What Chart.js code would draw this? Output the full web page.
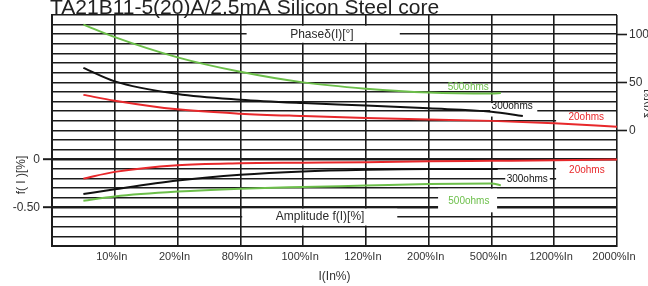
<!DOCTYPE html>
<html><head><meta charset="utf-8">
<script src="https://cdn.jsdelivr.net/npm/chart.js@4/dist/chart.umd.min.js"></script>
<style>html,body{margin:0;padding:0;background:#fff;overflow:hidden}#wrap{position:relative;width:648px;height:286px}</style>
</head><body><div id="wrap"><canvas id="c" width="648" height="286"></canvas></div>
<script>
const chartTitle = 'TA21B11-5(20)A/2.5mA Silicon Steel core';
const xTickLabels = ['', '10%In', '20%In', '80%In', '100%In', '120%In', '200%In', '500%In', '1200%In', '2000%In'];
const xAxisTitle = 'I(In%)';
const ampAxisTitle = 'f( I )[%]';
const phaseAxisTitle = 'δ(I)[°]';
const ampTickLabels = {'0': '0', '-0.5': '-0.50'};
const phaseTickValues = [0, 50, 100];

// phase (right axis, degrees)
const phaseX_500 = [0.5, 1, 2, 3, 4, 5, 6, 7, 7.15];
const phase_500  = [110, 97, 76, 61, 50, 43.5, 39.5, 38.5, 39];
const phaseX_300 = [0.5, 1, 2, 3, 4, 5, 6, 7, 7.5];
const phase_300  = [65, 51, 38, 32, 28.5, 26, 23, 19.5, 15];
const phaseX_20  = [0.5, 1, 2, 3, 4, 5, 6, 7, 8, 9];
const phase_20   = [37, 31, 22, 17.5, 15, 13, 11.5, 10, 7.5, 4];
// amplitude (left axis, %)
const ampX_20  = [0.5, 1, 2, 3, 4, 5, 6, 7, 8, 9];
const amp_20   = [-0.20, -0.13, -0.06, -0.04, -0.035, -0.03, -0.02, -0.015, -0.01, 0];
const ampX_300 = [0.5, 1, 2, 3, 4, 5, 6, 7, 7.1];
const amp_300  = [-0.36, -0.31, -0.22, -0.16, -0.125, -0.108, -0.10, -0.10, -0.10];
const ampX_500 = [0.5, 1, 2, 3, 4, 5, 6, 7, 7.15];
const amp_500  = [-0.43, -0.385, -0.335, -0.305, -0.287, -0.272, -0.256, -0.25, -0.27];

const FONT = '"Liberation Sans", Arial, Helvetica, sans-serif';
const GRID = '#1c1c1c';
const GREEN = '#6cbf4a', RED = '#e8282b', BLACK = '#111111';

const notes = [
  {text: 'Phaseδ(I)[°]', axis: 'y2', x: 4.3, y: 100, size: 12, color: '#2a2a2a', box: [3.1, 5.54, 108.8, 91.2]},
  {text: 'Amplitude f(I)[%]', axis: 'y', x: 4.27, y: -0.6, size: 12, color: '#2a2a2a', box: [3.03, 5.5, -0.512, -0.688]},
  {text: '500ohms', axis: 'y2', x: 6.63, y: 45, size: 10, color: GREEN},
  {text: '300ohms', axis: 'y2', x: 7.33, y: 25, size: 10, color: '#111', box: [6.98, 7.73, 28.5, 14.5]},
  {text: '20ohms', axis: 'y2', x: 8.51, y: 14, size: 10, color: RED, box: [8.03, 8.985, 18.5, 4.5]},
  {text: '20ohms', axis: 'y', x: 8.52, y: -0.115, size: 10, color: RED, box: [8.03, 8.985, -0.035, -0.28]},
  {text: '300ohms', axis: 'y', x: 7.57, y: -0.21, size: 10, color: '#111', box: [7.22, 7.93, -0.15, -0.27]},
  {text: '500ohms', axis: 'y', x: 6.64, y: -0.43, size: 10, color: GREEN, box: [6.15, 7.09, -0.305, -0.55]}
];

const notesPlugin = {
  id: 'notes',
  beforeDatasetsDraw(chart) {
    const {ctx, scales} = chart;
    const xs = scales.x;
    ctx.save();
    for (const n of notes) {
      const ys = scales[n.axis];
      if (n.box) {
        const x0 = xs.getPixelForValue(n.box[0]), x1 = xs.getPixelForValue(n.box[1]);
        const y0 = ys.getPixelForValue(n.box[2]), y1 = ys.getPixelForValue(n.box[3]);
        ctx.fillStyle = '#fff';
        ctx.fillRect(x0, y0, x1 - x0, y1 - y0);
      }
      ctx.font = n.size + 'px ' + FONT;
      ctx.fillStyle = n.color;
      ctx.textAlign = 'center';
      ctx.textBaseline = 'middle';
      ctx.fillText(n.text, xs.getPixelForValue(n.x), ys.getPixelForValue(n.y));
    }
    ctx.restore();
  },
  afterDraw(chart) {
    const {ctx} = chart;
    ctx.save();
    ctx.fillStyle = '#222';
    ctx.font = '21px ' + FONT;
    ctx.textAlign = 'left';
    ctx.textBaseline = 'alphabetic';
    ctx.fillText(chartTitle, 50, 13.5);
    ctx.font = '12px ' + FONT;
    ctx.fillStyle = '#333';
    ctx.textAlign = 'center';
    ctx.textBaseline = 'middle';
    ctx.translate(22, 175);
    ctx.rotate(-Math.PI / 2);
    ctx.fillText(ampAxisTitle, 0, 0);
    ctx.restore();
    ctx.save();
    ctx.font = '12px ' + FONT;
    ctx.fillStyle = '#333';
    ctx.textAlign = 'center';
    ctx.textBaseline = 'middle';
    ctx.translate(650, 104);
    ctx.rotate(-Math.PI / 2);
    ctx.fillText(phaseAxisTitle, 0, 0);
    ctx.restore();
  }
};

function pts(xa, ya) { return xa.map((v, i) => ({x: v, y: ya[i]})); }
function ds(label, xa, ya, color, axis) {
  return {label, data: pts(xa, ya), borderColor: color, backgroundColor: color, borderWidth: 2,
    pointRadius: 0, cubicInterpolationMode: 'monotone', yAxisID: axis, fill: false};
}
function zeroPad(s) { s.paddingTop = 0; s.paddingBottom = 0; s.paddingLeft = 0; s.paddingRight = 0; }

new Chart(document.getElementById('c'), {
  type: 'line',
  data: {
    datasets: [
      ds('Phase 500ohms', phaseX_500, phase_500, GREEN, 'y2'),
      ds('Phase 300ohms', phaseX_300, phase_300, BLACK, 'y2'),
      ds('Phase 20ohms', phaseX_20, phase_20, RED, 'y2'),
      ds('Amplitude 20ohms', ampX_20, amp_20, RED, 'y'),
      ds('Amplitude 300ohms', ampX_300, amp_300, BLACK, 'y'),
      ds('Amplitude 500ohms', ampX_500, amp_500, GREEN, 'y')
    ]
  },
  options: {
    responsive: false,
    animation: false,
    devicePixelRatio: 1,
    layout: {padding: {top: 15, left: 0, right: 0, bottom: 0}},
    plugins: {legend: {display: false}, tooltip: {enabled: false}, title: {display: false}},
    scales: {
      x: {
        type: 'linear', min: 0, max: 9, position: 'bottom',
        afterBuildTicks(s) { s.ticks = xTickLabels.map((_, i) => ({value: i})); },
        afterFit(s) { s.height = 40; zeroPad(s); },
        grid: {color: GRID, lineWidth: 1.6, drawTicks: false},
        border: {color: GRID, width: 2},
        ticks: {autoSkip: false, maxRotation: 0, padding: 4, labelOffset: -3, color: '#333',
          font: {family: FONT, size: 11}, callback: (v) => xTickLabels[v] || ''},
        title: {display: true, text: xAxisTitle, color: '#333', font: {family: FONT, size: 12}, padding: {top: 0, bottom: 2}}
      },
      y: {
        type: 'linear', position: 'left', min: -0.9, max: 1.5,
        afterBuildTicks(s) { s.ticks = Array.from({length: 25}, (_, i) => ({value: Math.round(-9 + i) / 10})); },
        afterFit(s) { s.width = 52; zeroPad(s); },
        grid: {
          color: GRID,
          lineWidth: (c) => (c.tick && (c.tick.value === 0 || c.tick.value === -0.5)) ? 2.4 : 1.6,
          drawTicks: true, tickLength: 9, tickWidth: 2,
          tickColor: (c) => (c.tick && ampTickLabels[String(c.tick.value)] !== undefined) ? GRID : 'rgba(0,0,0,0)'
        },
        border: {color: GRID, width: 2},
        ticks: {autoSkip: false, padding: 3, color: '#333', font: {family: FONT, size: 12},
          callback: (v) => ampTickLabels[String(v)] !== undefined ? ampTickLabels[String(v)] : ''}
      },
      y2: {
        type: 'linear', position: 'right', min: -120, max: 120,
        afterBuildTicks(s) { s.ticks = phaseTickValues.map((v) => ({value: v})); },
        afterFit(s) { s.width = 31; zeroPad(s); },
        grid: {drawOnChartArea: false, drawTicks: true, tickLength: 10, tickWidth: 1.6, tickColor: GRID, color: GRID},
        border: {display: false},
        ticks: {autoSkip: false, padding: 2, color: '#333', font: {family: FONT, size: 12},
          callback: (v) => String(v)}
      }
    }
  },
  plugins: [notesPlugin]
});
</script>
</body></html>
